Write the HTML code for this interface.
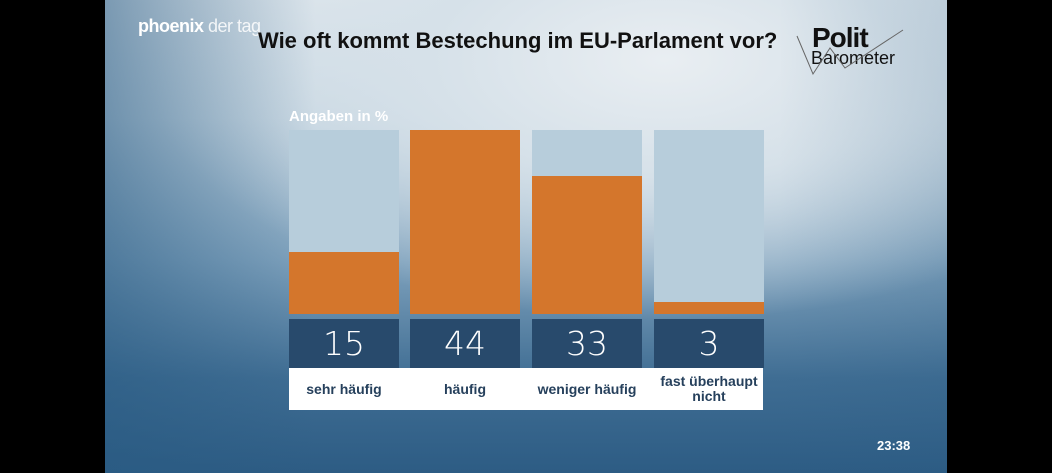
<!DOCTYPE html>
<html><head><meta charset="utf-8"><style>
body{margin:0;width:1052px;height:473px;background:#000;position:relative;overflow:hidden;font-family:"Liberation Sans",sans-serif}
#scr{position:absolute;left:105px;top:0;width:842px;height:473px;
background:radial-gradient(ellipse 520px 260px at 560px 60px,#e9eef2 0%,#d6e1e9 45%,rgba(200,215,226,0) 100%),linear-gradient(180deg,#dfe7ed 0%,#c3d4e0 25%,#7fa2bd 55%,#3f6d93 80%,#2d5c84 100%);}
#shade{position:absolute;left:105px;top:0;width:842px;height:473px;background:linear-gradient(90deg,rgba(40,90,130,.55) 0%,rgba(40,90,130,0) 25%,rgba(40,90,130,0) 80%,rgba(40,90,130,.15) 100%)}
.a{position:absolute}
.track{position:absolute;top:130px;height:184px;width:110px;background:#b7cddb}
.bar{position:absolute;left:0;right:0;bottom:0;background:#d4762c}
.num{position:absolute;top:319px;height:49px;width:110px;background:#284a6c;color:#fff;font-family:"DejaVu Sans",sans-serif;font-weight:200;font-size:33px;text-align:center;line-height:49px}
.lab{position:absolute;top:368px;width:110px;height:42px;color:#26405c;font-weight:bold;font-size:14px;text-align:center;display:flex;align-items:center;justify-content:center;line-height:15px}
</style></head><body>
<div id="scr"></div><div id="shade"></div>
<div class="a" style="left:138px;top:16px;color:#fff;font-size:18px;letter-spacing:-0.5px"><b>phoenix</b> <span style="font-weight:normal;opacity:.85">der tag</span></div>
<div class="a" style="left:258px;top:28px;font-size:22px;font-weight:bold;color:#111">Wie oft kommt Bestechung im EU-Parlament vor?</div>
<div class="a" style="left:812px;top:22px;font-size:28px;font-weight:bold;color:#111;letter-spacing:-1px">Polit</div>
<div class="a" style="left:811px;top:48px;font-size:18px;color:#111">Barometer</div>
<svg class="a" style="left:795px;top:28px" width="115" height="50"><polyline points="2,8 18,46 35,20 50,40 108,2" fill="none" stroke="#666" stroke-width="1"/></svg>
<div class="a" style="left:289px;top:108px;color:#fff;font-size:15px;font-weight:bold">Angaben in %</div>
<div class="a" style="left:289px;top:368px;width:474px;height:42px;background:#fff"></div>
<div class="track" style="left:289px"><div class="bar" style="height:62px"></div></div>
<div class="track" style="left:410px"><div class="bar" style="height:184px"></div></div>
<div class="track" style="left:532px"><div class="bar" style="height:138px"></div></div>
<div class="track" style="left:654px"><div class="bar" style="height:12px"></div></div>
<div class="num" style="left:289px">15</div>
<div class="num" style="left:410px">44</div>
<div class="num" style="left:532px">33</div>
<div class="num" style="left:654px">3</div>
<div class="lab" style="left:289px">sehr häufig</div>
<div class="lab" style="left:410px">häufig</div>
<div class="lab" style="left:532px">weniger häufig</div>
<div class="lab" style="left:654px">fast überhaupt<br>nicht</div>
<div class="a" style="left:877px;top:438px;color:#fff;font-size:13px;font-weight:bold">23:38</div>
</body></html>
